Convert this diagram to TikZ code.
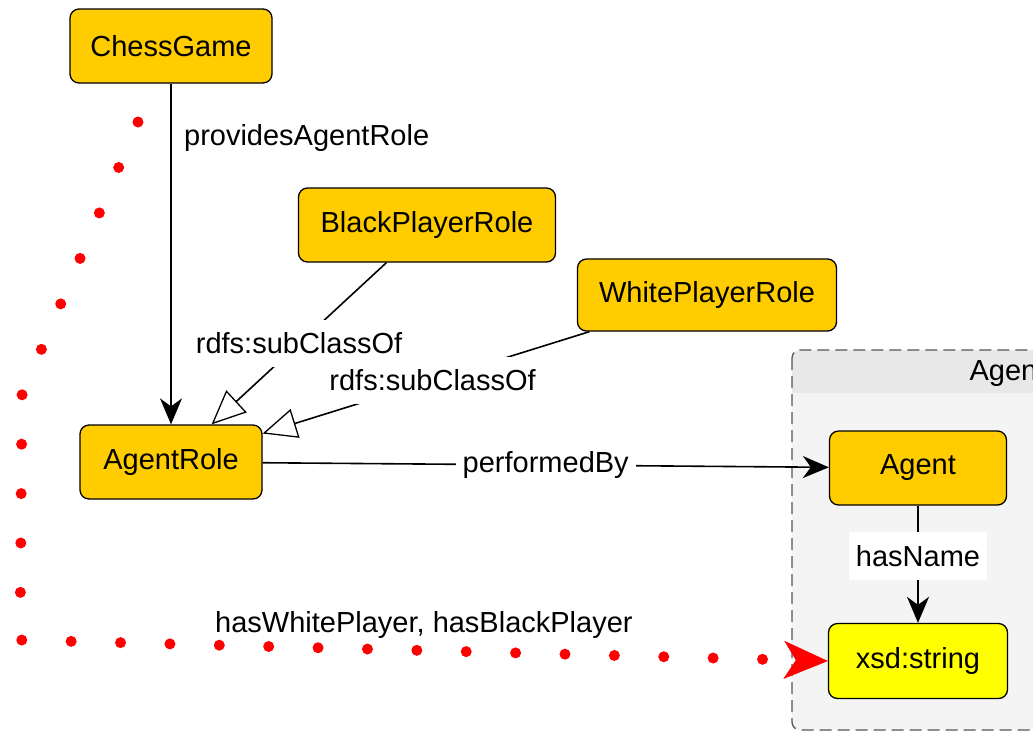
\documentclass[tikz,border=0pt]{standalone}
\usepackage{fontspec}
\setmainfont{Liberation Sans}
\usetikzlibrary{arrows.meta}
\definecolor{classfill}{HTML}{FFCC00}
\definecolor{litfill}{HTML}{FFFF00}
\definecolor{groupbody}{HTML}{F4F4F4}
\definecolor{grouphead}{HTML}{E8E8E8}
\definecolor{groupline}{HTML}{555555}

\begin{document}
\begin{tikzpicture}[x=1pt,y=-1pt,font=\fontsize{29}{34}\selectfont,
	cls/.style={draw=black,line width=1.3pt,rounded corners=9pt,fill=classfill,minimum height=74pt,inner sep=0pt},
	lbl/.style={fill=white,inner xsep=7pt,inner ysep=13pt},
	rel/.style={line width=1.6pt,-{Stealth[length=26pt,width=22pt,inset=8pt]}},
	sub/.style={line width=1.6pt,-{Triangle[open,fill=white,length=34pt,width=30pt,line width=1.3pt]}},
	redrel/.style={draw=red,line width=11pt,line cap=round,line join=round,dash pattern=on 0pt off 49.4pt,
		-{Stealth[length=44pt,width=38pt,inset=12pt,line width=0.5pt]}}]
	\clip (0,0) rectangle (1033,732);
	% Agent group
	\fill[groupbody,rounded corners=8pt] (792,350) rectangle (1070,730);
	\begin{scope}
		\clip[rounded corners=8pt] (792,350) rectangle (1070,730);
		\fill[grouphead] (792,350) rectangle (1070,393);
	\end{scope}
	\draw[groupline,line width=1.3pt,dash pattern=on 12pt off 6pt,rounded corners=8pt] (792,350) rectangle (1070,730);
	\node[anchor=west] (grouptitle) at (966,374) {Agent};

	\node[cls,minimum width=202pt] (chess) at (171,46) {ChessGame};
	\node[cls,minimum width=257pt] (black) at (427,225) {BlackPlayerRole};
	\node[cls,minimum width=259pt,minimum height=72pt] (white) at (707,295) {WhitePlayerRole};
	\node[cls,minimum width=182pt] (role) at (171,462) {AgentRole};
	\node[cls,minimum width=177pt] (agent) at (918,468) {Agent};
	\node[cls,fill=litfill,minimum width=179pt,minimum height=75pt] (str) at (918,661) {xsd:string};

	\draw[rel] (chess) -- node[pos=0.16,right,xshift=9pt] {providesAgentRole} (role);
	\draw[sub] (black) -- node[lbl] {rdfs:subClassOf} (role);
	\draw[sub] (white) -- node[lbl,pos=0.48] {rdfs:subClassOf} (role);
	\draw[rel] (role) -- node[lbl] {performedBy} (agent);
	\draw[rel] (agent) -- node[lbl,pos=0.43] {hasName} (str);

	\coordinate (dotstart) at (138,122);
	\draw[redrel] (dotstart) -- (22,395) -- (20,640) -- node[above=6pt,inner sep=0pt] {hasWhitePlayer, hasBlackPlayer} (str.west);
\end{tikzpicture}
\end{document}
